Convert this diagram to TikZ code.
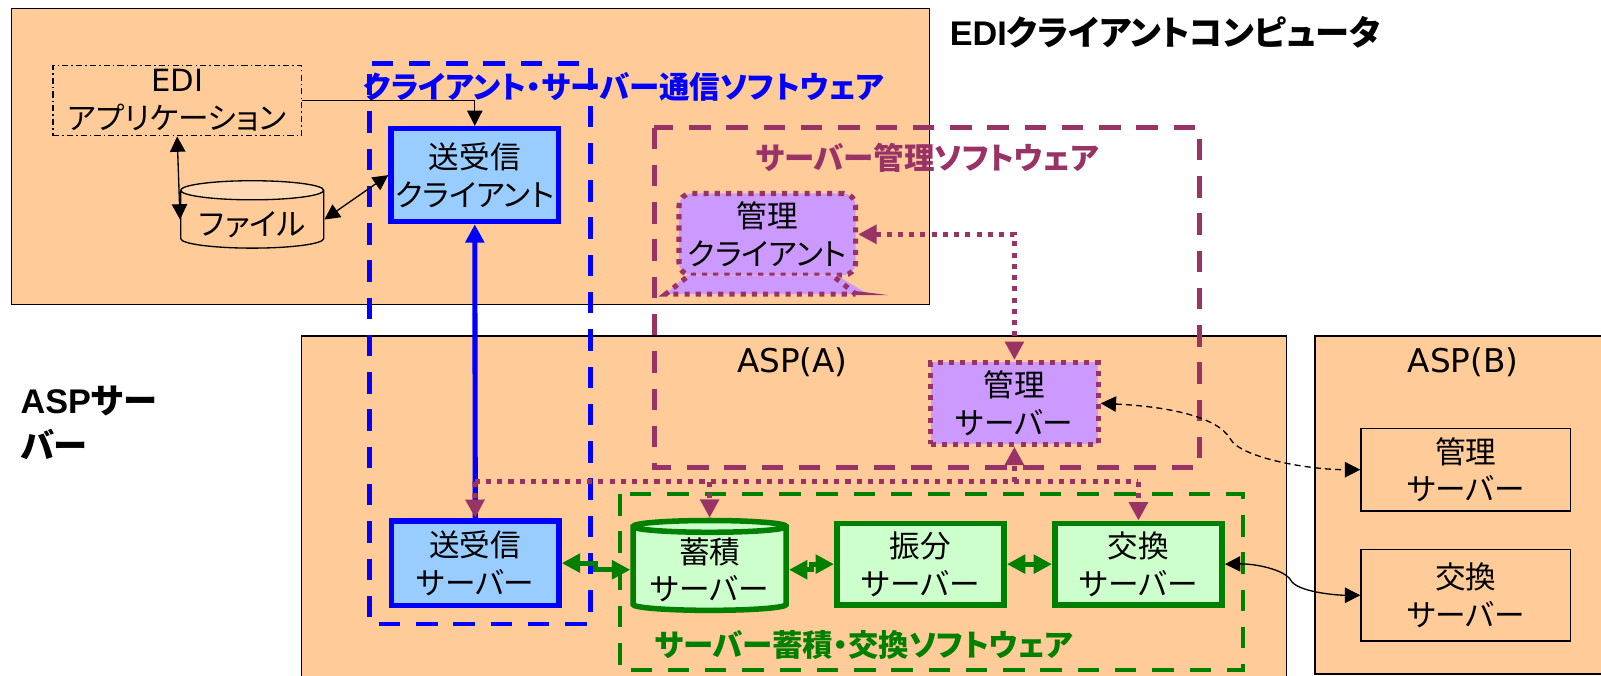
\documentclass[tikz,border=0pt]{standalone}
\usepackage{fontspec}
\setmainfont[RawFeature=+palt]{Noto Sans CJK JP}
\newfontfamily\latfont{DejaVu Sans}
\newfontfamily\headfont{Liberation Sans}
\usetikzlibrary{arrows.meta,shapes.geometric}

\definecolor{aspfill}{HTML}{FFCC99}
\definecolor{filetop}{HTML}{FFD9B3}
\definecolor{commfill}{HTML}{99CCFF}
\definecolor{storefill}{HTML}{CCFFCC}
\definecolor{mgmtfill}{HTML}{CC99FF}
\definecolor{mgmtline}{HTML}{993366}
\definecolor{storeline}{HTML}{008000}

\tikzset{
  zone/.style={draw=black,line width=1.3pt,fill=aspfill,inner sep=0pt},
  hostbox/.style={draw=black,line width=1.5pt,fill=aspfill,minimum width=205pt,minimum height=81pt,align=center,inner sep=0pt,font=\fontsize{30}{37}\selectfont},
  srvbox/.style={line width=5.4pt,minimum width=164pt,minimum height=80pt,align=center,inner sep=0pt,font=\fontsize{30}{37}\selectfont},
  commbox/.style={srvbox,draw=blue,fill=commfill},
  storebox/.style={srvbox,draw=storeline,fill=storefill},
  mgmtbox/.style={srvbox,line width=5pt,draw=mgmtline,fill=mgmtfill,dash pattern=on 5pt off 6pt},
  softframe/.style={line width=4.6pt,dash pattern=on 21pt off 15.5pt},
  softlabel/.style={inner sep=0pt,font=\fontsize{29.8}{34}\selectfont\bfseries},
  headlabel/.style={anchor=west,inner sep=0pt,font=\fontsize{33.5}{36}\selectfont\bfseries},
  plainlabel/.style={inner sep=0pt,font=\fontsize{32}{37}\selectfont\latfont,align=center},
  dbl/.style={line width=1.3pt,{Triangle[length=15pt,width=15pt]}-{Triangle[length=15pt,width=15pt]}},
  bus/.style={mgmtline,line width=5pt,dash pattern=on 5pt off 6pt},
  bustip/.style={bus,-{Triangle[length=18pt,width=18pt]}},
  greenlink/.style={storeline,line width=5pt,{Triangle[length=18pt,width=18pt]}-{Triangle[length=18pt,width=18pt]}}
}

\begin{document}
\begin{tikzpicture}[x=1pt,y=-1pt]
      \useasboundingbox (0,0) rectangle (1568,662);
      \clip (0,0) rectangle (1568,662);

      % Draw the zones
      \node[zone,minimum width=899pt,minimum height=290pt] (edizone) at (460.5,153) {};
      \node[zone,minimum width=965pt,minimum height=340pt] (aspazone) at (777.5,499) {};
      \node[zone,minimum width=290pt,minimum height=331pt] (aspbzone) at (1433,494.5) {};

      % Draw zone labels
      \node[headlabel] (edititle) at (930,32) {{\headfont EDI}クライアントコンピュータ};
      \node[headlabel] (asptitlea) at (20,393) {{\headfont ASP}サー};
      \node[headlabel] (asptitleb) at (20,435) {バー};
      \node[plainlabel] (aspalabel) at (776,355) {ASP(A)};
      \node[plainlabel] (aspblabel) at (1433,355) {ASP(B)};

      % Draw the client side
      \node[draw=black,line width=1.3pt,dash pattern=on 6pt off 3pt on 1.5pt off 3pt,minimum width=243pt,minimum height=69pt,align=center,inner sep=0pt,font=\fontsize{30}{37}\selectfont] (ediapp) at (173.5,98.5) {{\latfont EDI}\\アプリケーション};
      \node[cylinder,shape border rotate=90,draw=black,line width=1.3pt,cylinder uses custom fill,cylinder body fill=aspfill,cylinder end fill=filetop,aspect=0.18,minimum width=140pt,minimum height=66pt,inner sep=0pt,font=\fontsize{30}{34}\selectfont] (file) at (247,215) {\phantom{ファイル}};
      \node[inner sep=0pt,font=\fontsize{30}{34}\selectfont] (filelabel) at (247,220) {ファイル};

      % Draw the servers
      \node[commbox,minimum height=91pt] (sendcli) at (465,171.5) {送受信\\クライアント};
      \node[commbox,minimum height=83pt] (sendsrv) at (465.5,551.5) {送受信\\サーバー};
      \node[mgmtbox,rounded corners=12pt,minimum width=173pt] (mgmtcli) at (751.5,229.5) {管理\\クライアント};
      \node[mgmtbox] (mgmtsrv) at (993.5,395) {管理\\サーバー};
      \node[cylinder,shape border rotate=90,draw=storeline,line width=5.4pt,fill=storefill,aspect=0.1,minimum width=150pt,minimum height=88pt,inner sep=0pt,align=center,font=\fontsize{30}{37}\selectfont] (store) at (695,558) {蓄積\\サーバー};
      \node[storebox] (sort) at (901.5,552.5) {振分\\サーバー};
      \node[storebox] (exch) at (1115,552.5) {交換\\サーバー};
      \node[hostbox] (mgmtb) at (1435.5,460) {管理\\サーバー};
      \node[hostbox,minimum height=90pt] (exchb) at (1435.5,583) {交換\\サーバー};

      % Draw the stand under the client
      \fill[mgmtfill] (672,270) -- (652,288) -- (850,288) -- (820,270) -- cycle;
      \draw[bus] (672,272) -- (652,288) -- (838,288);
      \draw[bus] (818,272) -- (838,288);
      \fill[mgmtline] (838,285) -- (870,289) -- (838,289) -- cycle;

      % Draw software frames
      \draw[softframe,blue,dash phase=26pt] (362,62) rectangle (578,611);
      \draw[softframe,mgmtline] (641,125) rectangle (1175,458);
      \draw[softframe,storeline,line width=3.8pt] (607,484) rectangle (1217,656);
      \node[softlabel,text=blue] (commlabel) at (611,85) {クライアント・サーバー通信ソフトウェア};
      \node[softlabel,text=mgmtline] (mgmtlabel) at (908,155) {サーバー管理ソフトウェア};
      \node[softlabel,text=storeline] (storelabel) at (846,632) {サーバー蓄積・交換ソフトウェア};

      % Draw client links
      \draw[line width=1.3pt,-{Triangle[length=15pt,width=15pt]}] (ediapp.east) -- (sendcli.north |- ediapp.east) -- (sendcli.north);
      \draw[dbl] (ediapp.south) -- (file.west);
      \draw[dbl] (file.east) -- (sendcli.west);
      \draw[blue,line width=5pt,-{Triangle[length=18pt,width=18pt]}] (sendsrv.north) -- (sendcli.south);

      % Draw management links
      \coordinate (busw) at (465,472);
      \coordinate (buse) at (1115,472);
      \draw[bus,{Triangle[length=18pt,width=18pt]}-{Triangle[length=18pt,width=18pt]}] (mgmtcli.east) -| (mgmtsrv.north);
      \draw[bus] (busw) -- (buse);
      \draw[bustip] (busw) -- (sendsrv.north);
      \draw[bustip] (store.north |- busw) -- (store.north);
      \draw[bustip] (exch.north |- buse) -- (exch.north);
      \draw[bustip] (mgmtsrv.south |- busw) -- (mgmtsrv.south);

      % Draw storage links
      \draw[greenlink] (sendsrv.east) -- ++(33,0) |- (store.west);
      \draw[greenlink] (store.east) -- ++(22,0) |- (sort.west);
      \draw[greenlink] (sort.east) -- (exch.west);

      % Draw links to the other ASP
      \draw[dbl,dash pattern=on 6pt off 4pt] (mgmtsrv.east) .. controls (1140,398) and (1192,407) .. (1205,430) .. controls (1215,448) and (1280,460) .. (mgmtb.west);
      \draw[dbl] (exch.east) .. controls (1230,552) and (1258,558) .. (1264,568) .. controls (1270,580) and (1310,583) .. (exchb.west);
  \end{tikzpicture}
\end{document}
